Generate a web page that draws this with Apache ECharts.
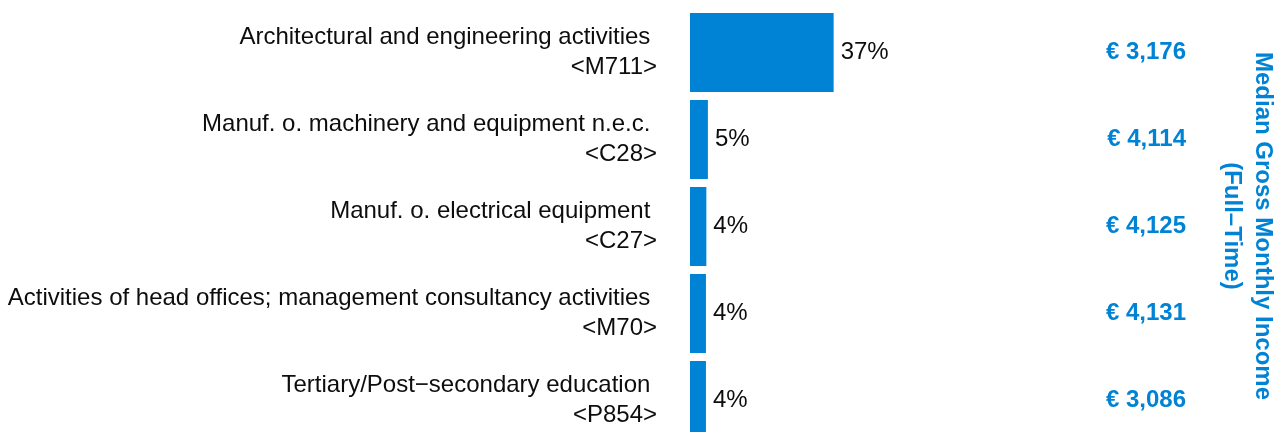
<!DOCTYPE html>
<html>
<head>
<meta charset="utf-8">
<script src="https://cdn.jsdelivr.net/npm/echarts@6/dist/echarts.min.js"></script>
<style>
  html, body { margin: 0; padding: 0; background: #fff; overflow: hidden; }
  #main { width: 1284px; height: 450px; }
</style>
</head>
<body>
<div id="main"></div>
<script>
const categories = [
  'Architectural and engineering activities \n<M711>',
  'Manuf. o. machinery and equipment n.e.c. \n<C28>',
  'Manuf. o. electrical equipment \n<C27>',
  'Activities of head offices; management consultancy activities \n<M70>',
  'Tertiary/Post\u2212secondary education \n<P854>'
]
const shares = [36.9, 4.6, 4.2, 4.1, 4.1]
const medianIncome = [3176, 4114, 4125, 4131, 3086]
const titleLines = ['Median Gross Monthly Income', '(Full\u2013Time)']

const blue = '#0083d5'
const font = "'Liberation Sans', Arial, sans-serif"

// the last row runs past the bottom of the window, so the div is a bit taller
const chart = echarts.init(document.getElementById('main'))

const option = {
  animation: false,
  textStyle: { fontFamily: font },
  grid: { left: 690, top: 9, width: 155.7, height: 435 },
  xAxis: {
    type: 'value',
    min: 0,
    max: 40,
    show: false
  },
  yAxis: [
    {
      type: 'category',
      inverse: true,
      data: categories,
      axisLine: { show: false },
      axisTick: { show: false },
      axisLabel: {
        margin: 33,
        color: '#0d0d0d',
        fontSize: 24,
        lineHeight: 30,
        padding: [2, 0, 0, 0],
        align: 'right',
        fontFamily: font
      }
    },
    {
      type: 'category',
      inverse: true,
      position: 'right',
      data: categories,
      axisLine: { show: false },
      axisTick: { show: false },
      axisLabel: {
        margin: 340.3,
        align: 'right',
        color: blue,
        fontSize: 24,
        fontWeight: 'bold',
        fontFamily: font,
        formatter: (v, i) => '\u20ac ' + medianIncome[i].toLocaleString('en-US')
      }
    }
  ],
  series: [
    {
      type: 'bar',
      data: shares,
      barCategoryGap: '9.2%',
      itemStyle: { color: blue },
      label: {
        show: true,
        position: 'right',
        distance: 7,
        color: '#0d0d0d',
        fontSize: 24,
        fontFamily: font,
        formatter: p => Math.round(p.value) + '%'
      }
    }
  ],
  graphic: [
    {
      type: 'text',
      x: 1263,
      y: 226,
      rotation: -Math.PI / 2,
      style: {
        text: titleLines[0],
        fill: blue,
        font: 'bold 24px ' + font,
        align: 'center',
        verticalAlign: 'middle'
      }
    },
    {
      type: 'text',
      x: 1232,
      y: 226,
      rotation: -Math.PI / 2,
      style: {
        text: titleLines[1],
        fill: blue,
        font: 'bold 24px ' + font,
        align: 'center',
        verticalAlign: 'middle'
      }
    }
  ]
}

chart.setOption(option)
</script>
</body>
</html>
